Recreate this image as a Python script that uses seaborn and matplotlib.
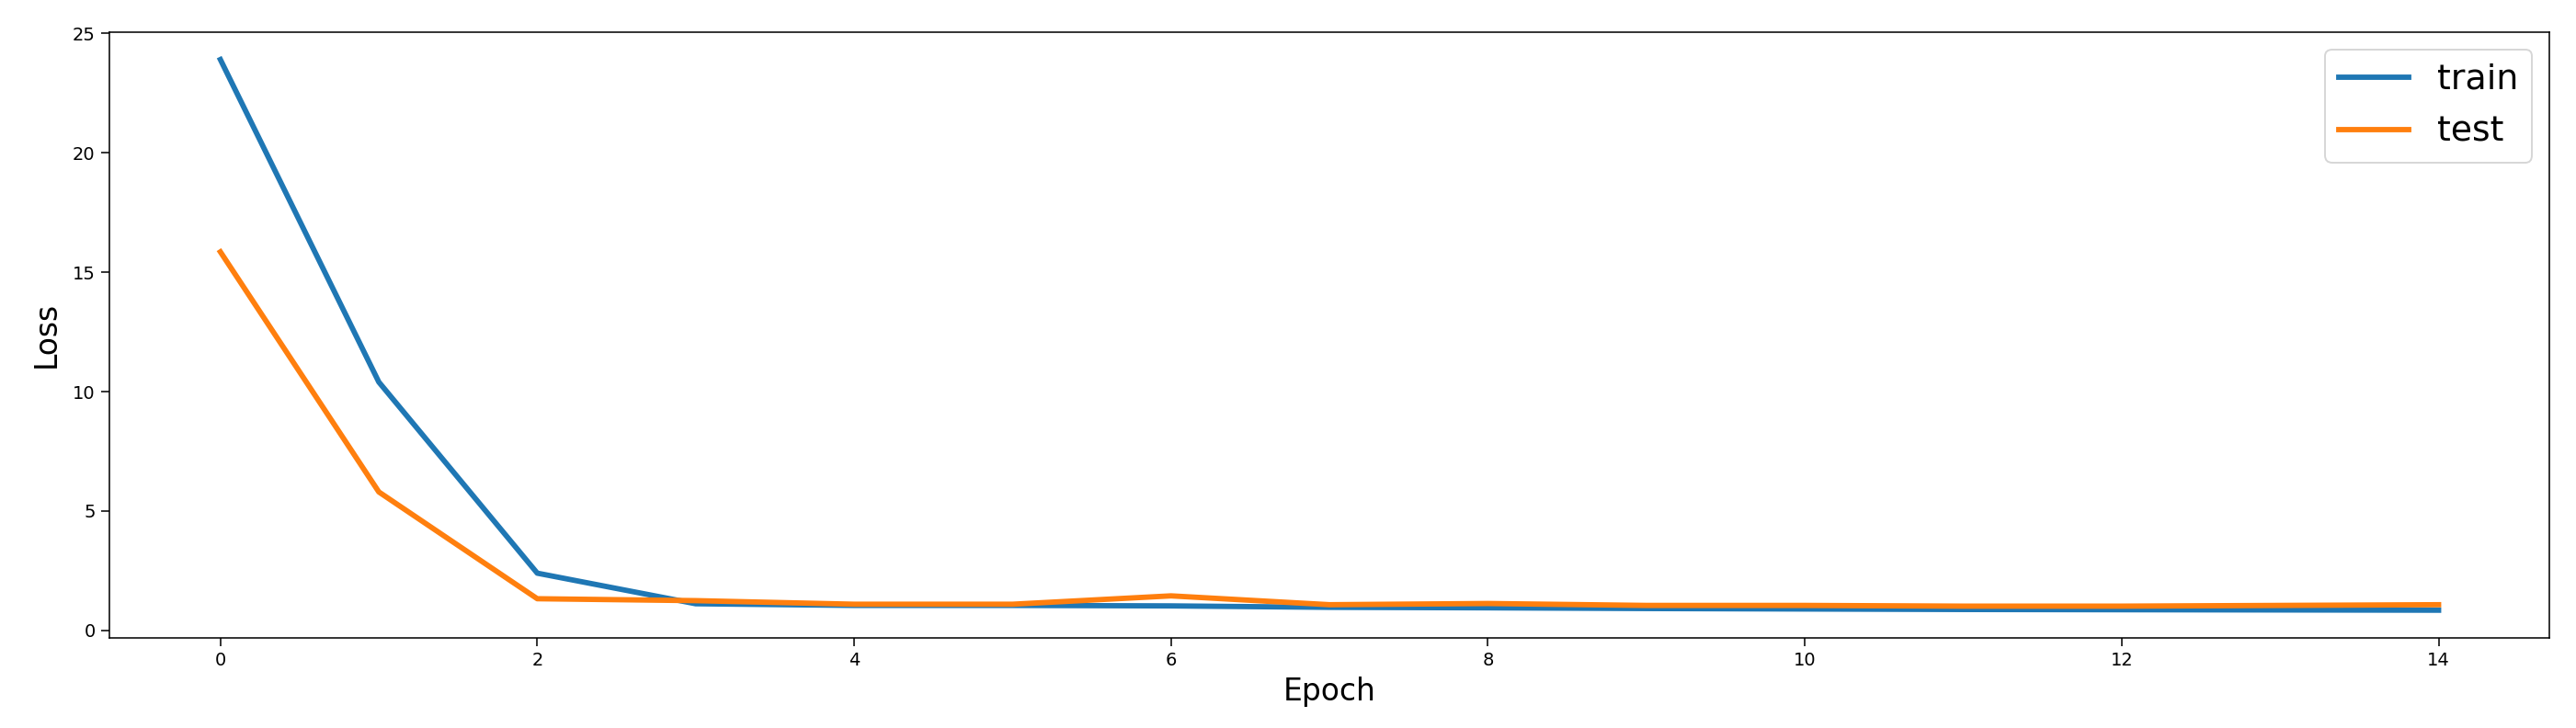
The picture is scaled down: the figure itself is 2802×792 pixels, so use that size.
import pandas as pd
import seaborn as sns
import matplotlib.pyplot as plt

# loss per epoch
epochs = list(range(15))
train_loss = [23.9, 10.4, 2.4, 1.12, 1.05, 1.05, 1.03, 0.97, 0.95, 0.92, 0.9, 0.88, 0.87, 0.86, 0.85]
test_loss = [15.85, 5.8, 1.33, 1.25, 1.1, 1.1, 1.45, 1.08, 1.13, 1.05, 1.05, 1.02, 1.02, 1.05, 1.08]

data = pd.DataFrame({
    'Epoch': epochs * 2,
    'Loss': train_loss + test_loss,
    'set': ['train'] * len(epochs) + ['test'] * len(epochs),
})

fig, ax = plt.subplots(figsize=(2802 / 140, 792 / 140), dpi=140)
fig.subplots_adjust(left=0.0425, right=0.9897, top=0.956, bottom=0.124)

sns.lineplot(data=data, x='Epoch', y='Loss', hue='set',
             palette=['#1f77b4', '#ff7f0e'], linewidth=3, ax=ax)

ax.set_xlabel('Epoch', fontsize=17)
ax.set_ylabel('Loss', fontsize=17, labelpad=6)
ax.tick_params(length=4.5)
ax.legend(fontsize=19.5, loc='upper right', labelspacing=0.55)

plt.savefig('out.png', dpi=140)
